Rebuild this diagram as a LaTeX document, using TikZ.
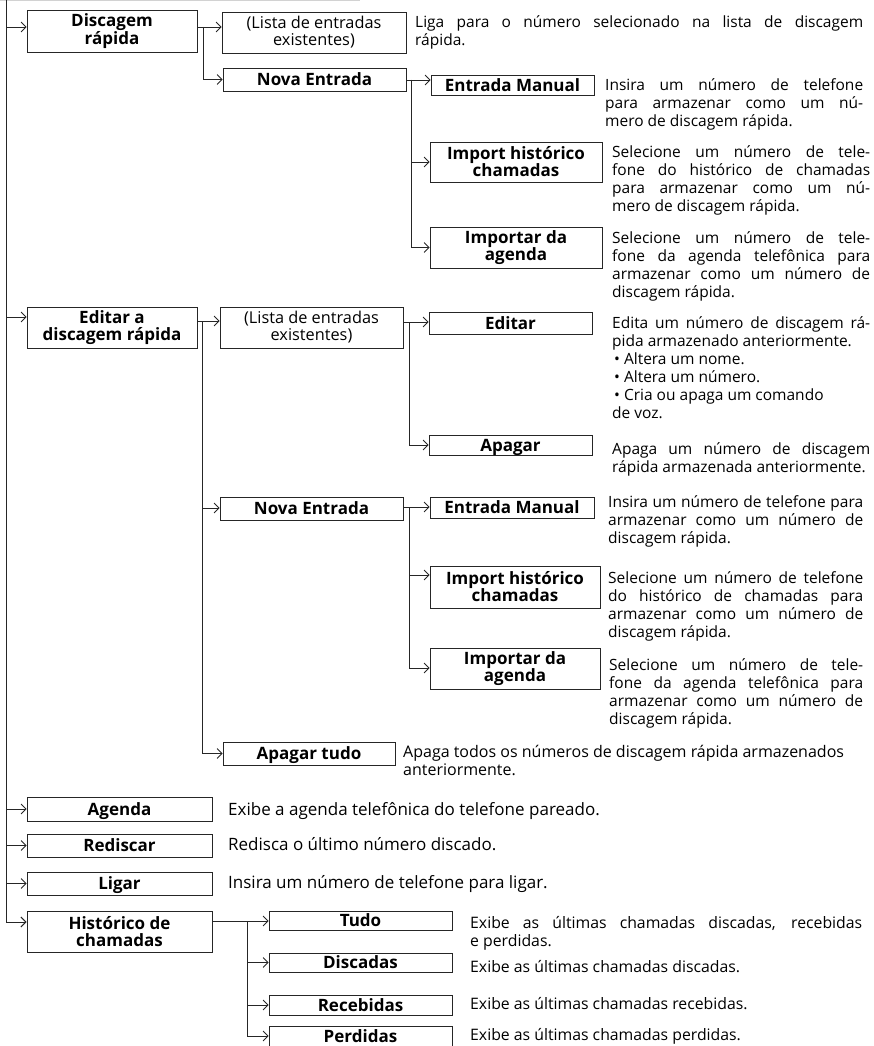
\documentclass[tikz,border=0pt]{standalone}
\usepackage{fontspec}
\setmainfont{Open Sans}
\usetikzlibrary{arrows.meta,calc}
\newcommand\mkbox[7]{\node[#2, minimum width={#5-#3}, minimum height={#6-#4}] (#1) at ({(#3+#5)/2},{(#4+#6)/2}) {#7};}
\newcommand\mkdesc[5]{\node[desc, text width=#4pt] (#1) at (#2,{#3-7.6}) {\strut #5};}
\newcommand\mkline[5]{\node[dline, font=\fontsize{#5}{18}\selectfont] (#1) at (#2,{#3+5.5}) {#4};}
\begin{document}
\begin{tikzpicture}[x=1pt,y=-1pt,
  conn/.style={draw=black!85, line width=0.8pt},
  arr/.style={conn, -{Straight Barb[length=5pt,width=10pt]}},
  box/.style={draw=black!85, line width=0.8pt, inner sep=1pt, align=center},
  bb1/.style={box, font=\fontsize{17}{17}\selectfont\bfseries, text height=12.2pt, text depth=0pt},
  bb2/.style={box, font=\fontsize{17}{17}\selectfont\bfseries},
  br2/.style={box, font=\fontsize{16.3}{17}\selectfont},
  desc/.style={inner sep=0pt, anchor=north west, align=justify, font=\fontsize{15.5}{18}\selectfont},
  dline/.style={inner sep=0pt, anchor=base west}
]
\useasboundingbox (0,0) rectangle (873,1046);
\draw[gray!35, line width=1.5pt] (0,0.75) -- (360,0.75);

% boxes
\mkbox{dq}{bb2}{27}{10}{197}{52}{Discagem\\rápida}
\mkbox{lista1}{br2}{222}{12}{406}{53}{(Lista de entradas\\existentes)}
\mkbox{nova1}{bb1}{223}{68}{406}{91}{Nova Entrada}
\mkbox{em1}{bb1}{431}{75}{594}{95}{Entrada Manual}
\mkbox{ih1}{bb2}{430}{142}{602}{182}{Import histórico\\chamadas}
\mkbox{ia1}{bb2}{430}{227}{602}{268}{Importar da\\agenda}
\mkbox{ed}{bb2}{27}{307}{197}{348}{Editar a\\discagem rápida}
\mkbox{lista2}{br2}{220}{307}{403}{348}{(Lista de entradas\\existentes)}
\mkbox{edt}{bb1}{429}{312}{592}{334}{Editar}
\mkbox{ap}{bb1}{429}{435}{592}{455}{Apagar}
\mkbox{nova2}{bb1}{220}{497}{403}{520}{Nova Entrada}
\mkbox{em2}{bb1}{430}{497}{594}{518}{Entrada Manual}
\mkbox{ih2}{bb2}{430}{566}{600}{608}{Import histórico\\chamadas}
\mkbox{ia2}{bb2}{430}{648}{600}{689}{Importar da\\agenda}
\mkbox{aptudo}{bb1}{223}{742}{395}{765}{Apagar tudo}
\mkbox{agenda}{bb1}{27}{797}{212}{821}{Agenda}
\mkbox{redis}{bb1}{27}{834}{212}{857}{Rediscar}
\mkbox{ligar}{bb1}{27}{872}{212}{895}{Ligar}
\mkbox{hist}{bb2}{27}{911}{212}{952}{Histórico de\\chamadas}
\mkbox{tudo}{bb1}{269}{911}{452}{930}{Tudo}
\mkbox{disc}{bb1}{269}{953}{452}{972}{Discadas}
\mkbox{rec}{bb1}{269}{995}{452}{1015}{Recebidas}
\mkbox{perd}{bb1}{269}{1026}{452}{1046}{Perdidas}

% descriptions
\mkdesc{d1}{415}{22}{448}{Liga para o número selecionado na lista de discagem\linebreak rápida.}
\mkdesc{d2}{605}{85}{258}{Insira um número de telefone\linebreak para armazenar como um nú-\linebreak mero de discagem rápida.}
\mkdesc{d3}{612}{152}{258}{Selecione um número de tele-\linebreak fone do histórico de chamadas\linebreak para armazenar como um nú-\linebreak mero de discagem rápida.}
\mkdesc{d4}{612}{238}{258}{Selecione um número de tele-\linebreak fone da agenda telefônica para\linebreak armazenar como um número de\linebreak discagem rápida.}
\mkdesc{d5}{612}{323}{258}{Edita um número de discagem rá-\linebreak pida armazenado anteriormente.\\\hspace*{2pt}• Altera um nome.\\\hspace*{2pt}• Altera um número.\\\hspace*{2pt}• Cria ou apaga um comando\\de voz.}
\mkdesc{d6}{612}{449}{258}{Apaga um número de discagem\linebreak rápida armazenada anteriormente.}
\mkdesc{d7}{608}{502}{255}{Insira um número de telefone para\linebreak armazenar como um número de\linebreak discagem rápida.}
\mkdesc{d8}{608}{578}{255}{Selecione um número de telefone\linebreak do histórico de chamadas para\linebreak armazenar como um número de\linebreak discagem rápida.}
\mkdesc{d9}{609}{665}{254}{Selecione um número de tele-\linebreak fone da agenda telefônica para\linebreak armazenar como um número de\linebreak discagem rápida.}
\node[desc, align=left, font=\fontsize{16}{18.5}\selectfont] (d10) at (403,{752-7.8}) {\strut Apaga todos os números de discagem rápida armazenados\\anteriormente.};
\mkline{d11}{228}{810}{Exibe a agenda telefônica do telefone pareado.}{17}
\mkline{d12}{228}{845}{Redisca o último número discado.}{17}
\mkline{d13}{228}{883}{Insira um número de telefone para ligar.}{17}
\node[desc, text width=392pt, font=\fontsize{15.8}{18.5}\selectfont] (d14) at (470,{923-7.8}) {\strut Exibe as últimas chamadas discadas, recebidas\linebreak e perdidas.};
\mkline{d15}{470}{967}{Exibe as últimas chamadas discadas.}{15.8}
\mkline{d16}{470}{1004}{Exibe as últimas chamadas recebidas.}{15.8}
\mkline{d17}{470}{1035}{Exibe as últimas chamadas perdidas.}{15.8}

% trunk
\coordinate (t0) at (6,0);
\draw[arr, line width=1pt] (t0) |- (hist.west |- 0,922);
\draw[arr] (t0 |- 0,27) -- (dq.west |- 0,27);
\draw[arr] (t0 |- 0,317) -- (ed.west |- 0,317);
\draw[arr] (t0 |- agenda.west) -- (agenda.west);
\draw[arr] (t0 |- redis.west) -- (redis.west);
\draw[arr] (t0 |- ligar.west) -- (ligar.west);

% Discagem rapida branch
\coordinate (b1) at (203,27);
\draw[arr] (dq.east |- 0,27) -- (lista1.west |- 0,27);
\draw[arr] (b1) |- (nova1.west);
\coordinate (b2) at (411,80);
\draw[arr] (nova1.east |- 0,80) -- (em1.west |- 0,80);
\draw[arr] (b2) |- (ih1.west);
\draw[arr] (b2) |- (ia1.west);

% Editar branch
\coordinate (b3) at (202,321);
\draw[arr] (ed.east |- 0,321) -- (lista2.west |- 0,321);
\draw[arr] (b3) |- (nova2.west |- 0,508);
\draw[arr] (b3) |- (aptudo.west);
\coordinate (b4) at (409,322);
\draw[arr] (lista2.east |- 0,322) -- (edt.west |- 0,322);
\draw[arr] (b4) |- (ap.west);
\coordinate (b5) at (409,507);
\draw[arr] (nova2.east |- 0,507) -- (em2.west |- 0,507);
\draw[arr] (b5) |- (ih2.west |- 0,575);
\draw[arr] (b5) |- (ia2.west |- 0,668);

% Historico branch
\coordinate (b6) at (247,921);
\draw[arr] (hist.east |- 0,921) -- (tudo.west |- 0,921);
\draw[arr] (b6) |- (disc.west);
\draw[arr] (b6) |- (rec.west);
\draw[arr] (b6) |- (perd.west);
\end{tikzpicture}
\end{document}
